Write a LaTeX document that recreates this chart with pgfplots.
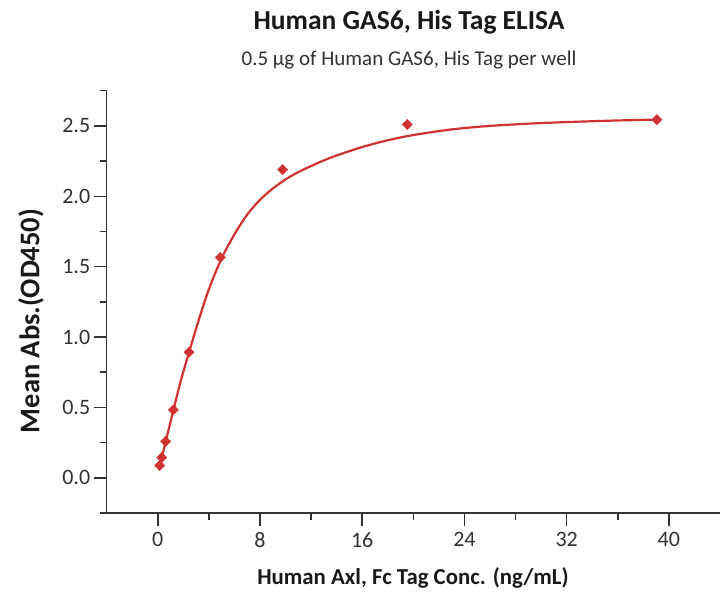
\documentclass[border=0pt]{standalone}
\usepackage{fontspec}
\setmainfont{Carlito}
\usepackage{pgfplots}
\pgfplotsset{compat=1.18}
\definecolor{cred}{RGB}{208,50,50}
\definecolor{axgray}{RGB}{50,50,50}
\begin{document}
\begin{tikzpicture}[x=1pt,y=1pt]
\begin{axis}[
  at={(0,0)}, anchor=south west,
  scale only axis, width=613.3pt, height=422.3pt,
  xmin=-4, xmax=44, ymin=-0.25, ymax=2.75,
  axis x line*=bottom, axis y line*=left,
  axis line style={axgray, line width=1.5pt},
  every tick/.style={axgray, line width=1.5pt},
  tick align=outside,
  major tick length=13pt, minor tick length=7pt,
  xtick={0,8,16,24,32,40},
  minor xtick={4,12,20,28,36},
  ytick={0,0.5,1,1.5,2,2.5},
  minor ytick={-0.25,0.25,0.75,1.25,1.75,2.25,2.75},
  yticklabel style={/pgf/number format/fixed, /pgf/number format/fixed zerofill, /pgf/number format/precision=1},
  /pgf/number format/assume math mode=true,
  tick label style={font=\fontsize{22}{26}\selectfont, text=axgray},
  xticklabel style={yshift=-3pt},
  clip=false,
]
\addplot[cred, line width=2.2pt, smooth, tension=0.5] coordinates {
(0.153,0.09) (0.305,0.145) (0.61,0.255) (1.22,0.48) (1.8,0.69) (2.44,0.89)
(3.2,1.12) (4,1.34) (5,1.56) (6,1.73) (7,1.87) (8,1.975) (9,2.055)
(10,2.12) (11,2.172) (12,2.215) (13,2.255) (14,2.29) (16,2.35)
(18,2.398) (20,2.435) (23,2.475) (26,2.50) (30,2.52) (35,2.536) (39.06,2.545)
};
\addplot[only marks, mark=square*, mark size=3.6pt, cred,
  every mark/.append style={rotate=45}] coordinates {
(0.153,0.087) (0.305,0.144) (0.61,0.259) (1.22,0.482) (2.44,0.892)
(4.88,1.565) (9.77,2.19) (19.53,2.51) (39.06,2.545)
};
\end{axis}
\node[font=\fontsize{27.5}{32}\selectfont\bfseries, text=black!90] at (302.3,491) {Human GAS6, His Tag ELISA};
\node[font=\fontsize{21}{25}\selectfont, text=axgray] at (302.3,453) {0.5 µg of Human GAS6, His Tag per well};
\node[font=\fontsize{22.8}{27}\selectfont\bfseries, text=black!90] at (306.3,-65) {Human Axl, Fc Tag Conc. (ng/mL)};
\node[font=\fontsize{28.5}{33}\selectfont\bfseries, text=black!90, rotate=90] at (-75.7,192) {Mean Abs.(OD450)};
\pgfresetboundingbox
\useasboundingbox (-106.7,-81) rectangle (613.3,513);
\end{tikzpicture}
\end{document}
